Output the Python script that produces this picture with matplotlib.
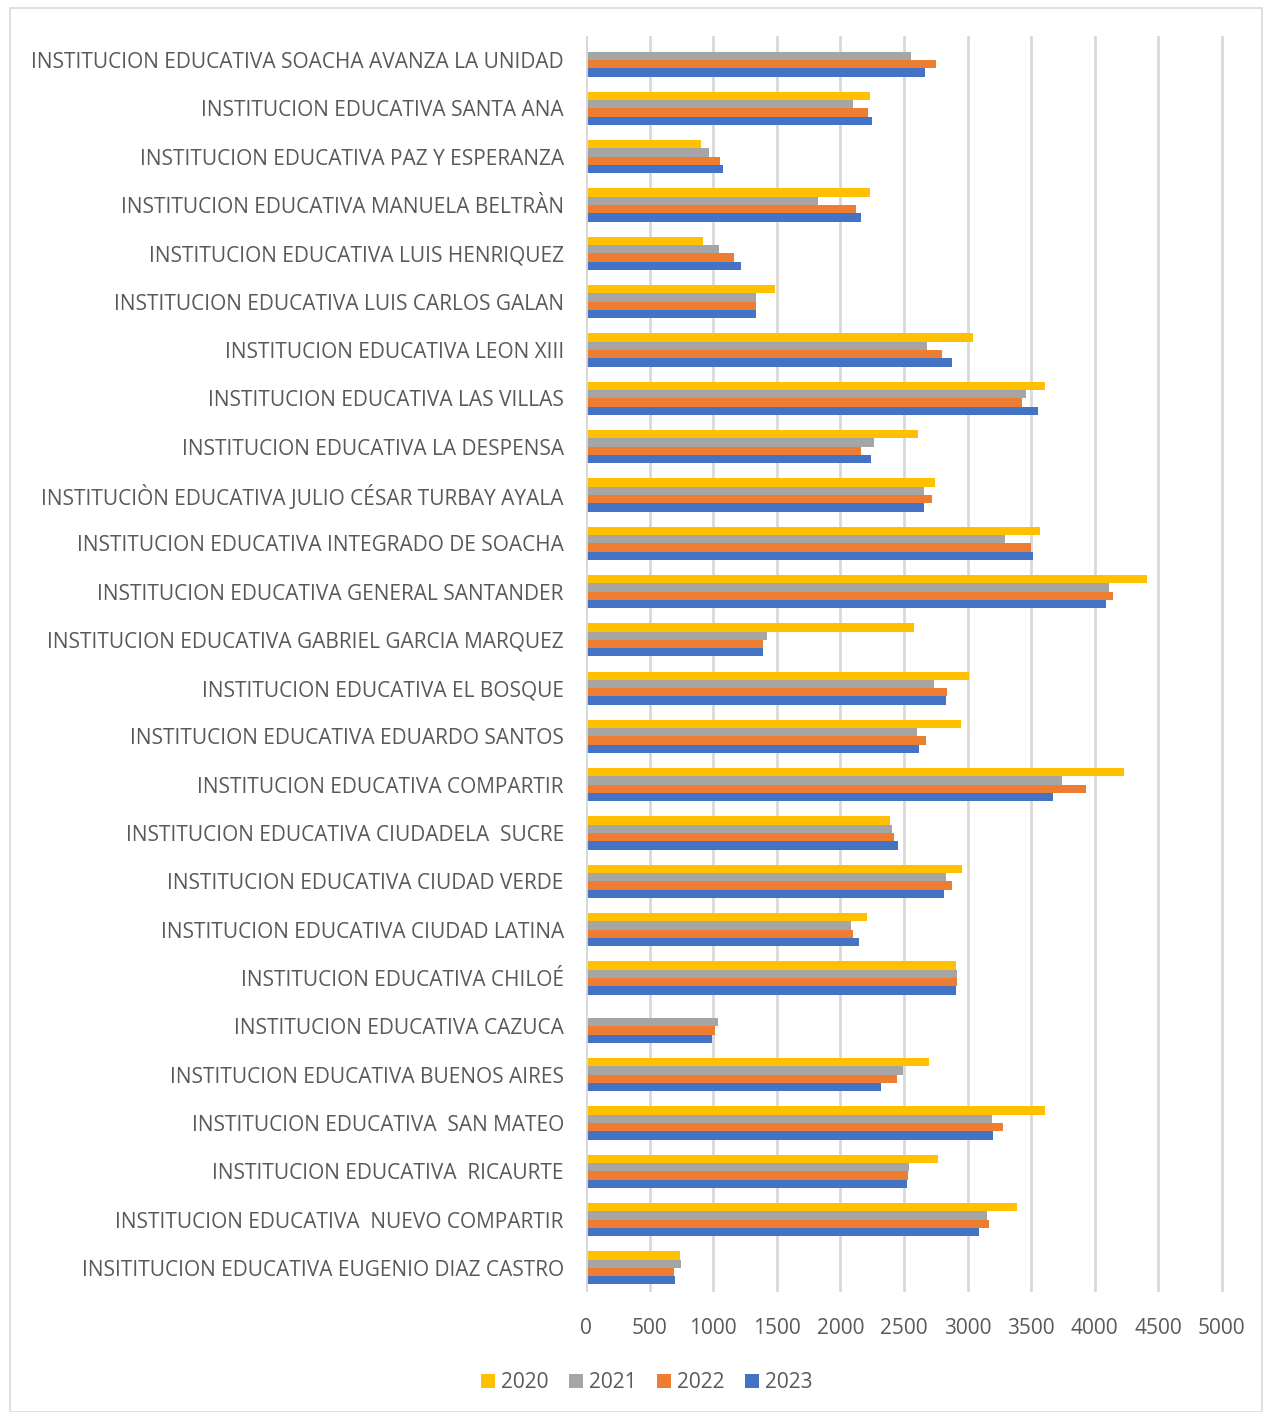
import matplotlib.pyplot as plt
import numpy as np
from matplotlib.patches import Rectangle

# categories, bottom to top as drawn
schools = [
    "INSITITUCION EDUCATIVA EUGENIO DIAZ CASTRO",
    "INSTITUCION EDUCATIVA  NUEVO COMPARTIR",
    "INSTITUCION EDUCATIVA  RICAURTE",
    "INSTITUCION EDUCATIVA  SAN MATEO",
    "INSTITUCION EDUCATIVA BUENOS AIRES",
    "INSTITUCION EDUCATIVA CAZUCA",
    "INSTITUCION EDUCATIVA CHILOÉ",
    "INSTITUCION EDUCATIVA CIUDAD LATINA",
    "INSTITUCION EDUCATIVA CIUDAD VERDE",
    "INSTITUCION EDUCATIVA CIUDADELA  SUCRE",
    "INSTITUCION EDUCATIVA COMPARTIR",
    "INSTITUCION EDUCATIVA EDUARDO SANTOS",
    "INSTITUCION EDUCATIVA EL BOSQUE",
    "INSTITUCION EDUCATIVA GABRIEL GARCIA MARQUEZ",
    "INSTITUCION EDUCATIVA GENERAL SANTANDER",
    "INSTITUCION EDUCATIVA INTEGRADO DE SOACHA",
    "INSTITUCIÒN EDUCATIVA JULIO CÉSAR TURBAY AYALA",
    "INSTITUCION EDUCATIVA LA DESPENSA",
    "INSTITUCION EDUCATIVA LAS VILLAS",
    "INSTITUCION EDUCATIVA LEON XIII",
    "INSTITUCION EDUCATIVA LUIS CARLOS GALAN",
    "INSTITUCION EDUCATIVA LUIS HENRIQUEZ",
    "INSTITUCION EDUCATIVA MANUELA BELTRÀN",
    "INSTITUCION EDUCATIVA PAZ Y ESPERANZA",
    "INSTITUCION EDUCATIVA SANTA ANA",
    "INSTITUCION EDUCATIVA SOACHA AVANZA LA UNIDAD",
]

y2020 = [740, 3386, 2764, 3612, 2698, 0, 2913, 2210, 2958, 2387, 4231, 2949, 3015,
         2580, 4408, 3568, 2748, 2610, 3607, 3042, 1489, 921, 2236, 906, 2231, 0]
y2021 = [745, 3150, 2538, 3194, 2493, 1039, 2919, 2081, 2829, 2408, 3745, 2604, 2733,
         1423, 4111, 3297, 2658, 2267, 3462, 2682, 1336, 1047, 1822, 966, 2100, 2559]
y2022 = [690, 3168, 2530, 3276, 2449, 1016, 2919, 2096, 2877, 2423, 3934, 2676, 2838,
         1393, 4144, 3498, 2718, 2162, 3426, 2799, 1336, 1163, 2126, 1055, 2215, 2751]
y2023 = [696, 3089, 2520, 3199, 2318, 987, 2913, 2147, 2817, 2456, 3669, 2616, 2829,
         1390, 4090, 3511, 2655, 2237, 3553, 2874, 1336, 1215, 2163, 1081, 2247, 2669]

years = ["2020", "2021", "2022", "2023"]
colors = ["#FFC000", "#A5A5A5", "#ED7D31", "#4472C4"]

FONT = "Open Sans"
TXT = "#595959"
FS = 15

fig = plt.figure(figsize=(12.65, 14.12), dpi=100)
fig.patches.append(Rectangle((0.008, 0.0), 0.99, 0.994, transform=fig.transFigure,
                             fill=False, edgecolor="#d9d9d9", linewidth=1.2))

ax = fig.add_axes([586 / 1265, 1 - 1292 / 1412, 641 / 1265, 1256 / 1412])

y = np.arange(len(schools))
h = 0.172
series = [y2020, y2021, y2022, y2023]
for k, (vals, col, yr) in enumerate(zip(series, colors, years)):
    ax.barh(y + (1.5 - k) * h, vals, height=h, color=col, label=yr, zorder=3)

ax.set_xlim(0, 5040)
ax.set_ylim(-0.5, len(schools) - 0.5)
ax.set_xticks(np.arange(0, 5001, 500))
ax.set_yticks(y)
ax.set_yticklabels(schools)
ax.grid(axis="x", color="#d9d9d9", linewidth=2, zorder=0)
ax.axvline(0, color="#d9d9d9", linewidth=2, zorder=4)
for s in ax.spines.values():
    s.set_visible(False)
ax.tick_params(length=0)
ax.tick_params(axis="y", pad=16)
ax.tick_params(axis="x", pad=19)
for lab in ax.get_yticklabels() + ax.get_xticklabels():
    lab.set_fontfamily(FONT)
    lab.set_fontsize(FS)
    lab.set_color(TXT)

leg = ax.legend(loc="upper center", bbox_to_anchor=(0.095, -0.049), ncol=4,
                frameon=False, handlelength=0.65, handleheight=0.65,
                handletextpad=0.3, columnspacing=1.0,
                prop={"family": FONT, "size": FS})
for t in leg.get_texts():
    t.set_color(TXT)

fig.savefig("out.png", dpi=100)
